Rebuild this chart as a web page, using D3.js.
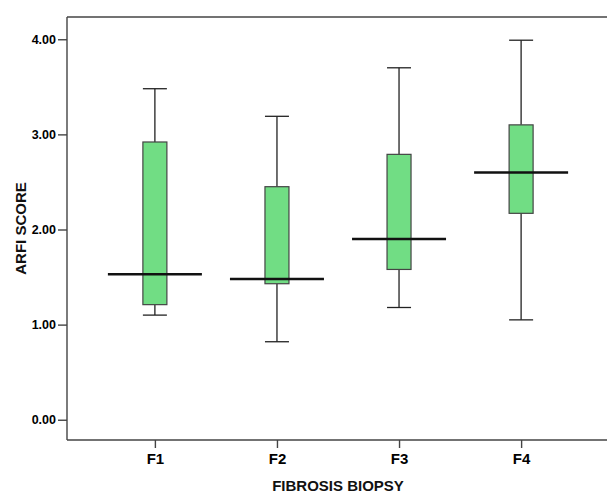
<!DOCTYPE html>
<html>
<head>
<meta charset="utf-8">
<script src="https://cdn.jsdelivr.net/npm/d3@7"></script>
<style>
  html, body { margin: 0; background: #fff; overflow: hidden; }
  svg { display: block; font-family: "Liberation Sans", Arial, sans-serif; }
</style>
</head>
<body>
<svg width="607" height="493"></svg>
<script>
const categories = ['F1', 'F2', 'F3', 'F4'];
const lowerWhisker = [1.10, 0.82, 1.18, 1.05];
const q1 = [1.21, 1.43, 1.58, 2.17];
const medians = [1.53, 1.48, 1.90, 2.60];
const q3 = [2.92, 2.45, 2.79, 3.10];
const upperWhisker = [3.48, 3.19, 3.70, 3.99];
const yTicks = [0, 1, 2, 3, 4];

function plotChart() {
  const left = 67;
  const right = 609;
  const frameEnd = 630;
  const top = 17;
  const bottom = 440;
  const boxWidth = 24;
  const medianWidth = 94;

  const data = categories.map((c, i) => ({
    cat: c,
    lo: lowerWhisker[i],
    q1: q1[i],
    med: medians[i],
    q3: q3[i],
    hi: upperWhisker[i]
  }));

  const svg = d3.select('svg');

  const xScale = d3.scalePoint()
      .domain(categories)
      .range([left, right])
      .padding(0.72);
  const yScale = d3.scaleLinear()
      .domain([-0.213, 4.234])
      .range([bottom, top]);

  // frame top line, runs off the right edge
  svg.append('line')
      .attr('x1', left).attr('x2', frameEnd)
      .attr('y1', top).attr('y2', top)
      .attr('stroke', '#444')
      .attr('stroke-width', 1.4);

  const yAxis = d3.axisLeft(yScale)
      .tickValues(yTicks)
      .tickFormat(d3.format('.2f'))
      .tickSizeInner(9)
      .tickSizeOuter(0)
      .tickPadding(2);
  const yG = svg.append('g')
      .attr('transform', `translate(${left}, 0)`)
      .call(yAxis);

  const xAxis = d3.axisBottom(xScale)
      .tickSizeInner(8)
      .tickSizeOuter(0)
      .tickPadding(5);
  const xG = svg.append('g')
      .attr('transform', `translate(0, ${bottom})`)
      .call(xAxis);

  [yG, xG].forEach(g => {
    g.select('.domain').attr('stroke', '#444').attr('stroke-width', 1.4);
    g.selectAll('.tick line').attr('stroke', '#444').attr('stroke-width', 1.4);
    g.selectAll('.tick text')
        .attr('fill', '#000')
        .attr('font-weight', 'bold');
  });
  yG.select('.domain').attr('d', `M0,${top}V${bottom}`);
  xG.select('.domain').attr('d', `M${left},0H${frameEnd}`);
  yG.selectAll('.tick text').attr('font-size', '12.5px');
  xG.selectAll('.tick text').attr('font-size', '15px');

  const boxes = svg.append('g').attr('class', 'boxes')
      .selectAll('g')
      .data(data)
      .join('g');

  // whiskers and caps
  boxes.append('line')
      .attr('x1', d => xScale(d.cat)).attr('x2', d => xScale(d.cat))
      .attr('y1', d => yScale(d.hi)).attr('y2', d => yScale(d.q3))
      .attr('stroke', '#222').attr('stroke-width', 1.3);
  boxes.append('line')
      .attr('x1', d => xScale(d.cat)).attr('x2', d => xScale(d.cat))
      .attr('y1', d => yScale(d.q1)).attr('y2', d => yScale(d.lo))
      .attr('stroke', '#222').attr('stroke-width', 1.3);
  boxes.append('line')
      .attr('x1', d => xScale(d.cat) - boxWidth / 2)
      .attr('x2', d => xScale(d.cat) + boxWidth / 2)
      .attr('y1', d => yScale(d.hi)).attr('y2', d => yScale(d.hi))
      .attr('stroke', '#222').attr('stroke-width', 1.3);
  boxes.append('line')
      .attr('x1', d => xScale(d.cat) - boxWidth / 2)
      .attr('x2', d => xScale(d.cat) + boxWidth / 2)
      .attr('y1', d => yScale(d.lo)).attr('y2', d => yScale(d.lo))
      .attr('stroke', '#222').attr('stroke-width', 1.3);

  // boxes
  boxes.append('rect')
      .attr('x', d => xScale(d.cat) - boxWidth / 2)
      .attr('width', boxWidth)
      .attr('y', d => yScale(d.q3))
      .attr('height', d => yScale(d.q1) - yScale(d.q3))
      .attr('fill', '#71dd84')
      .attr('stroke', '#444')
      .attr('stroke-width', 1.2);

  // medians
  boxes.append('line')
      .attr('x1', d => xScale(d.cat) - medianWidth / 2)
      .attr('x2', d => xScale(d.cat) + medianWidth / 2)
      .attr('y1', d => yScale(d.med)).attr('y2', d => yScale(d.med))
      .attr('stroke', '#111').attr('stroke-width', 2.5);

  // axis titles
  svg.append('text')
      .attr('x', (left + right) / 2)
      .attr('y', 490.5)
      .attr('text-anchor', 'middle')
      .attr('font-size', '15px')
      .attr('font-weight', 'bold')
      .attr('fill', '#111')
      .text('FIBROSIS BIOPSY');
  svg.append('text')
      .attr('transform', `translate(26, ${(top + bottom) / 2}) rotate(-90)`)
      .attr('text-anchor', 'middle')
      .attr('font-size', '15px')
      .attr('font-weight', 'bold')
      .attr('fill', '#111')
      .text('ARFI SCORE');
}

plotChart();
</script>
</body>
</html>
